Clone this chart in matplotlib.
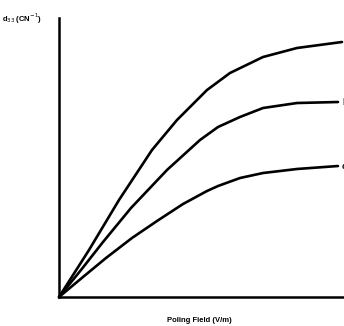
import matplotlib
matplotlib.use("Agg")
import matplotlib.pyplot as plt

# Poling field (arbitrary units) and d33 response (arbitrary units)
field_a = [0, 1.053, 2.105, 3.263, 4.140, 5.193, 6.0, 7.158, 8.351, 9.930]
d33_a = [0, 1.685, 3.477, 5.269, 6.344, 7.419, 8.029, 8.602, 8.925, 9.140]

field_b = [0, 0.772, 1.544, 2.526, 3.789, 4.947, 5.579, 6.351, 7.158, 8.351, 9.789]
d33_b = [0, 0.968, 1.971, 3.190, 4.552, 5.627, 6.093, 6.452, 6.774, 6.953, 6.989]

field_c = [0, 0.842, 1.649, 2.561, 3.439, 4.351, 5.193, 5.579, 6.351, 7.158, 8.351, 9.789]
d33_c = [0, 0.717, 1.398, 2.115, 2.724, 3.333, 3.799, 3.978, 4.265, 4.444, 4.588, 4.695]

curve_labels = ["b", "c"]

plt.rcParams['font.family'] = ['Liberation Sans', 'DejaVu Sans']

fig = plt.figure(figsize=(3.44, 3.26), dpi=100)
ax = fig.add_axes([59/344, 29/326, 285/344, 279/326])

for xs, ys in [(field_a, d33_a), (field_b, d33_b), (field_c, d33_c)]:
    ax.plot(xs, ys, color='black', lw=1.9, solid_capstyle='round',
            solid_joinstyle='round', clip_on=False)

ax.text(9.93, d33_b[-1], curve_labels[0], fontsize=6.5, fontweight='bold', ha='left', va='center', clip_on=False)
ax.text(9.93, d33_c[-1], curve_labels[1], fontsize=6.5, fontweight='bold', ha='left', va='center', clip_on=False)

ax.set_xlim(0, 10)
ax.set_ylim(0, 10)
ax.spines['top'].set_visible(False)
ax.spines['right'].set_visible(False)
ax.spines['left'].set_linewidth(1.8)
ax.spines['bottom'].set_linewidth(1.8)
ax.set_xticks([])
ax.set_yticks([])

fig.text(22/344, 1 - 19/326, r"d$_{33}$ (CN$^{-1}$)", fontsize=5.5, fontweight='bold', ha='center', va='center')
fig.text(199/344, 1 - 321/326, "Poling Field (V/m)", fontsize=5.5, fontweight='bold', ha='center', va='center')

fig.savefig("out.png", dpi=100)
